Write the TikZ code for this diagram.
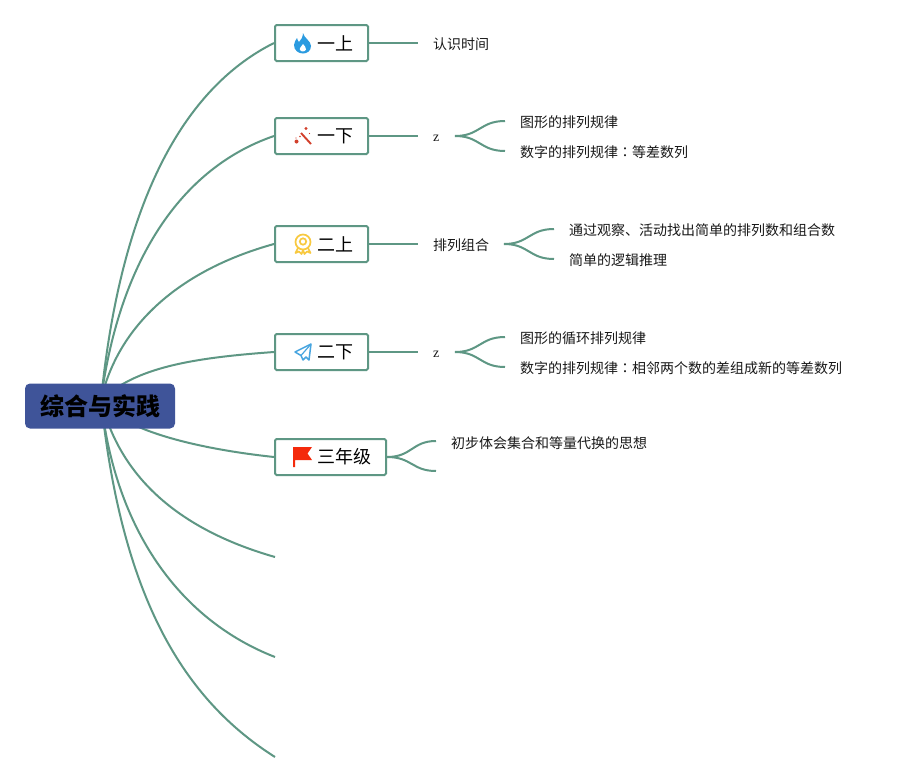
\documentclass[tikz,border=0pt]{standalone}
\usepackage{fontspec}
\setmainfont{Noto Sans CJK SC}
\newfontfamily\zfont{Liberation Serif}
\newfontfamily\tcfont{Noto Sans CJK TC}
\usetikzlibrary{backgrounds,calc}
\definecolor{lk}{HTML}{5E9784}
\definecolor{rootc}{HTML}{3F5499}
\definecolor{medalc}{HTML}{F8C940}
\definecolor{wandc}{HTML}{D2402C}
\definecolor{flamec}{HTML}{2B9BE0}
\definecolor{planec}{HTML}{47A5E0}
\definecolor{flagc}{HTML}{F42A0C}
\tikzset{
 x=1pt,y=-1pt,
 link/.style={draw=lk,line width=2pt},
 topic/.style={draw=lk,line width=2pt,fill=white,rounded corners=1.5pt,minimum height=36pt,inner sep=0pt,text=black,font=\fontsize{18}{20}\selectfont},
 leaf/.style={inner sep=0pt,anchor=west,text=black!90,font=\fontsize{14}{16}\selectfont},
 zleaf/.style={inner sep=0pt,anchor=west,text=black!90,font=\zfont\fontsize{14}{16}\selectfont},
 rootn/.style={fill=rootc,rounded corners=5pt,minimum width=150pt,minimum height=45pt,inner sep=0pt,text=black,font=\fontsize{24}{26}\selectfont\bfseries},
}
\newcommand{\fork}[3]{\draw[link] (#1) .. controls ($(#1)+(25,0)$) and ($(#2)+(-25,0)$) .. (#2);
 \draw[link] (#1) .. controls ($(#1)+(25,0)$) and ($(#3)+(-25,0)$) .. (#3);}
\begin{document}
\begin{tikzpicture}
\useasboundingbox (0,0) rectangle (902,782);
\node[rootn] (root) at (100,406) {\raisebox{-1pt}{综合与实践}};
\node[topic,minimum width=93pt] (t1) at (321.5,43) {\hspace{28pt}\raisebox{-1pt}{一上}};
\node[topic,minimum width=93pt] (t2) at (321.5,136) {\hspace{28pt}\raisebox{-1pt}{一下}};
\node[topic,minimum width=93pt] (t3) at (321.5,244) {\hspace{28pt}\raisebox{-1pt}{二上}};
\node[topic,minimum width=93pt] (t4) at (321.5,352) {\hspace{28pt}\raisebox{-1pt}{二下}};
\node[topic,minimum width=111pt] (t5) at (330.5,457) {\hspace{28pt}\raisebox{-2pt}{三年级}};
\coordinate (e6) at (275,557);
\coordinate (e7) at (275,657);
\coordinate (e8) at (275,757);
\coordinate (rc) at (101,400);
% leaves
\node[leaf] (a1) at (433,44) {认识时间};
\node[zleaf] (a2) at (433,138) {z};
\node[leaf] (a3) at (433,245) {排列组合};
\node[zleaf] (a4) at (433,354) {z};
\node[leaf] (b1) at (520,122) {图形的排列规律};
\node[leaf] (b2) at (520,152) {数字的排列规律{\tcfont ：}等差数列};
\node[leaf] (c1) at (569,230) {通过观察、活动找出简单的排列数和组合数};
\node[leaf] (c2) at (569,260) {简单的逻辑推理};
\node[leaf] (d1) at (520,338) {图形的循环排列规律};
\node[leaf] (d2) at (520,368) {数字的排列规律{\tcfont ：}相邻两个数的差组成新的等差数列};
\node[leaf] (f1) at (451,443) {初步体会集合和等量代换的思想};
\coordinate (f2) at (436,471);
\begin{scope}[on background layer]
\fill[white] (0,0) rectangle (902,782);
\draw[link] (rc) .. controls (122,190) and (190,85) .. (t1.west);
\draw[link] (rc) .. controls (118,270) and (175,170) .. (t2.west);
\draw[link] (rc) .. controls (118,325) and (180,270) .. (t3.west);
\draw[link] (rc) .. controls (135,368) and (190,358) .. (t4.west);
\draw[link] (rc) .. controls (118,428) and (190,448) .. (t5.west);
\draw[link] (rc) .. controls (118,470) and (170,527) .. (e6);
\draw[link] (rc) .. controls (115,530) and (180,620) .. (e7);
\draw[link] (rc) .. controls (122,600) and (185,700) .. (e8);
\end{scope}
% stems
\draw[link] (t1.east) -- (418,43) coordinate (s1);
\draw[link] (t2.east) -- (418,136) coordinate (s2);
\draw[link] (t3.east) -- (418,244) coordinate (s3);
\draw[link] (t4.east) -- (418,352) coordinate (s4);
% forks
\coordinate (o2) at (455,136);\coordinate (p21) at (505,121);\coordinate (p22) at (505,151);
\coordinate (o3) at (504,244);\coordinate (p31) at (554,229);\coordinate (p32) at (554,259);
\coordinate (o4) at (455,352);\coordinate (p41) at (505,337);\coordinate (p42) at (505,367);
\coordinate (p51) at (436,441);
\fork{o2}{p21}{p22}
\fork{o3}{p31}{p32}
\fork{o4}{p41}{p42}
\draw[link] (t5.east) .. controls (412,457) and (412,441) .. (p51);
\draw[link] (t5.east) .. controls (412,457) and (412,471) .. (f2);
% icons
% flame
\fill[flamec] (303,33) .. controls (304,38) and (311,41) .. (311,46)
 .. controls (311,51) and (307,53.5) .. (303,53.5) .. controls (298,53.5) and (294,50) .. (294,45)
 .. controls (294,42) and (296,40) .. (297,38) .. controls (297.5,40) and (298,41) .. (299,42)
 .. controls (301,40) and (303,37) .. (303,33) -- cycle;
\fill[white] (303,44) .. controls (304,46) and (306.5,47) .. (306,49.5) .. controls (305,52) and (301,52) .. (300,50) .. controls (299,48) and (302,46) .. (303,44) -- cycle;
% wand
\draw[wandc,line width=1.9pt] (301,133) -- (311,144);
\fill[wandc] (296.5,141.5) circle (2pt);
\fill[wandc] (306,128.5) circle (1.7pt);
\fill[wandc] (300,136.5) circle (0.8pt);
\fill[wandc] (296,138) circle (0.7pt);
\fill[wandc] (309.5,133.5) circle (0.7pt);
% medal
\begin{scope}[line width=1.7pt,draw=medalc]
\draw (303,242) circle (7.5pt);
\draw (303,241.5) circle (3.2pt);
\draw[line join=round] (298,248) -- (295.5,253) -- (299,251.5) -- (301.5,254) -- (303,250);
\draw[line join=round] (308,248) -- (310.5,253) -- (307,251.5) -- (304.5,254) -- (303,250);
\end{scope}
% plane
\draw[planec,line width=1.5pt,line join=round] (311,344) -- (295,352) -- (301,355.5) -- (303,360) -- (306,357) -- (309,360) -- cycle;
\draw[planec,line width=1.2pt] (311,344) -- (301,355.5);
% flag
\fill[flagc] (293,447) -- (312,447) -- (307.5,453.5) -- (312,460) -- (295,460) -- (295,467) -- (293,467) -- cycle;
\end{tikzpicture}
\end{document}
